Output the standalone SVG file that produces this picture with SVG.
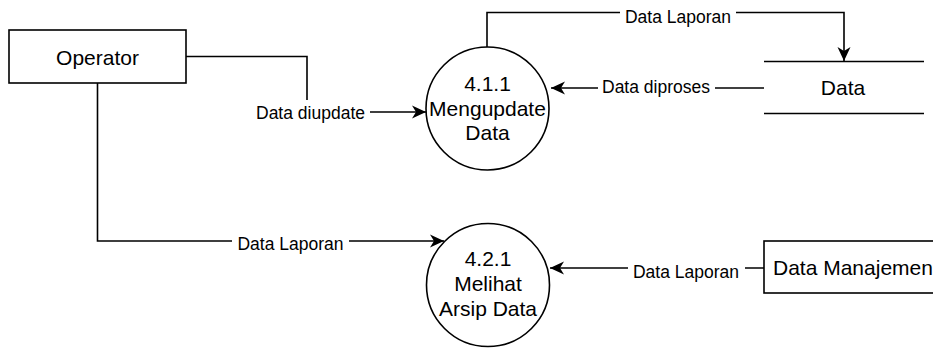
<svg xmlns="http://www.w3.org/2000/svg" width="933" height="348" viewBox="0 0 933 348">
<style>
.shape{fill:#fff;stroke:#000;stroke-width:1.6}
.line{fill:none;stroke:#000;stroke-width:1.6}
.node{font-family:"Liberation Sans",Arial,sans-serif;font-size:21px;fill:#000;text-anchor:middle}
.start{text-anchor:start}
.lbl{font-family:"Liberation Sans",Arial,sans-serif;font-size:17.5px;fill:#000;text-anchor:middle}
.bg{fill:#fff}
</style>
<defs>
<marker id="arr" markerUnits="userSpaceOnUse" markerWidth="16" markerHeight="14" refX="14" refY="7" orient="auto">
<path d="M0,0.5 L14,7 L0,13.5 L4,7 Z" fill="#000"/>
</marker>
</defs>
<rect width="933" height="348" fill="#fff"/>
<g id="connectors">
<path class="line" d="M186,56.5 H307 V112 H426" marker-end="url(#arr)"/>
<path class="line" d="M487,47 V12.5 H844 V61" marker-end="url(#arr)"/>
<path class="line" d="M764,88 H551" marker-end="url(#arr)"/>
<path class="line" d="M97.5,83 V241 H444" marker-end="url(#arr)"/>
<path class="line" d="M764,268 H550" marker-end="url(#arr)"/>
</g>
<g id="labels">
<rect class="bg" x="620" y="6" width="116" height="18"/>
<text class="lbl" x="678" y="23">Data Laporan</text>
<rect class="bg" x="598" y="80" width="117" height="16"/>
<text class="lbl" x="656" y="93">Data diproses</text>
<rect class="bg" x="251" y="100" width="119" height="22"/>
<text class="lbl" x="310.5" y="119">Data diupdate</text>
<rect class="bg" x="232" y="234" width="117" height="18"/>
<text class="lbl" x="290.5" y="250">Data Laporan</text>
<rect class="bg" x="628" y="261" width="117" height="18"/>
<text class="lbl" x="686" y="277.5">Data Laporan</text>
</g>
<g id="operator">
<rect class="shape" x="9" y="30" width="177" height="53"/>
<text class="node" x="97.5" y="65">Operator</text>
</g>
<g id="p411">
<circle class="shape" cx="487.5" cy="108.5" r="61.5"/>
<text class="node" x="487.5" y="91">4.1.1</text>
<text class="node" x="487.5" y="116">Mengupdate</text>
<text class="node" x="487.5" y="140">Data</text>
</g>
<g id="datastore">
<line class="line" x1="764" y1="61.5" x2="924" y2="61.5"/>
<line class="line" x1="764" y1="113.5" x2="924" y2="113.5"/>
<text class="node" x="843" y="95">Data</text>
</g>
<g id="p421">
<circle class="shape" cx="488" cy="285" r="61.5"/>
<text class="node" x="488" y="265.5">4.2.1</text>
<text class="node" x="488" y="291">Melihat</text>
<text class="node" x="488" y="316">Arsip Data</text>
</g>
<g id="datamanajemen">
<rect class="shape" x="764" y="241" width="190" height="52"/>
<text class="node start" x="773" y="275">Data Manajemen</text>
</g>
</svg>
